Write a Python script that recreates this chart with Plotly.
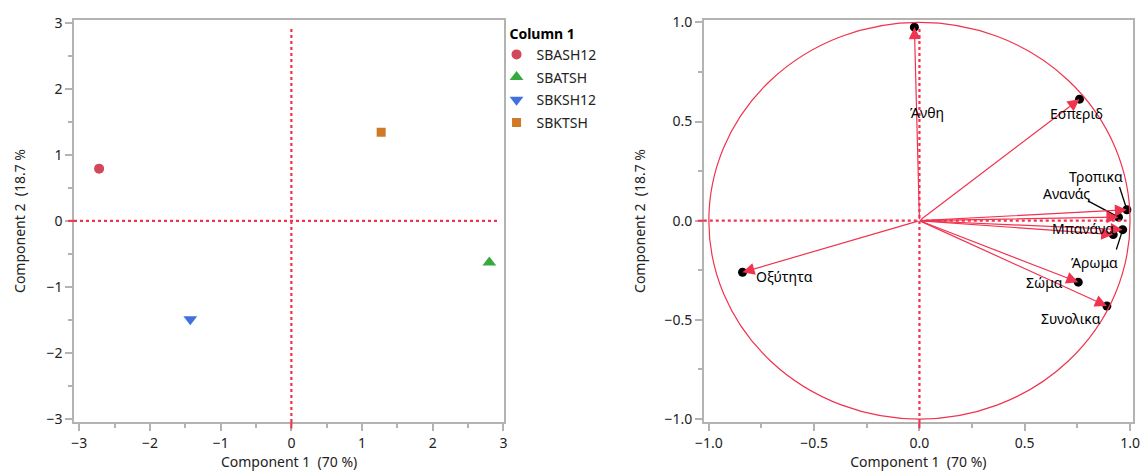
import plotly.graph_objects as go

# ---- data ----
samples = ["SBASH12", "SBATSH", "SBKSH12", "SBKTSH"]
pc1 = [-2.72, 2.80, -1.43, 1.27]
pc2 = [0.79, -0.63, -1.49, 1.34]
sample_colors = ["#d2475a", "#37a93f", "#4171e0", "#d07a27"]
sample_symbols = ["circle", "triangle-up", "triangle-down", "square"]
sample_sizes = [10, 12, 12, 9]

variables = ["Άνθη", "Εσπεριδ", "Τροπικα", "Ανανάς", "Μπανάνα", "Άρωμα", "Σώμα", "Συνολικα", "Οξύτητα"]
load1 = [-0.024, 0.76, 0.985, 0.945, 0.92, 0.965, 0.754, 0.89, -0.84]
load2 = [0.976, 0.613, 0.055, 0.018, -0.07, -0.045, -0.31, -0.43, -0.26]
# label positions (data coords of right panel)
lab_x = [0.038, 0.744, 0.839, 0.697, 0.777, 0.829, 0.592, 0.72, -0.64]
lab_y = [0.545, 0.54, 0.222, 0.136, -0.04, -0.212, -0.313, -0.495, -0.283]
# leader lines: label end -> point
leaders = {"Τροπικα": (0.95, 0.17), "Ανανάς": (0.80, 0.10), "Άρωμα": (0.935, -0.145)}

RED = "#f0334f"
AX = "#b3b3b3"
FONT = "Noto Sans"

fig = go.Figure()

for s, a, b, c, m, sz in zip(samples, pc1, pc2, sample_colors, sample_symbols, sample_sizes):
    fig.add_trace(go.Scatter(x=[a], y=[b], mode="markers", name=s, legendgroup=s,
                             marker=dict(color=c, symbol=m, size=sz),
                             xaxis="x", yaxis="y"))

# loading points
fig.add_trace(go.Scatter(x=load1, y=load2, mode="markers", showlegend=False,
                         marker=dict(color="black", size=9),
                         xaxis="x2", yaxis="y2"))

# leader lines
for v, (lx, ly) in leaders.items():
    i = variables.index(v)
    fig.add_trace(go.Scatter(x=[lx, load1[i]], y=[ly, load2[i]], mode="lines",
                             showlegend=False, line=dict(color="black", width=1.3),
                             xaxis="x2", yaxis="y2"))

# arrows
for v, a, b in zip(variables, load1, load2):
    fig.add_annotation(x=a, y=b, ax=0, ay=0, xref="x2", yref="y2", axref="x2", ayref="y2",
                       text="", showarrow=True, arrowhead=2, arrowsize=2.0, arrowwidth=1.2,
                       arrowcolor=RED)
for v, a, b in zip(variables, lab_x, lab_y):
    fig.add_annotation(x=a, y=b, xref="x2", yref="y2", text=v, showarrow=False,
                       font=dict(size=14, color="black", family=FONT))

# circle
fig.add_shape(type="circle", xref="x2", yref="y2", x0=-1, y0=-1, x1=1, y1=1,
              line=dict(color=RED, width=1.2))

# dotted zero lines
for xr, yr in [("x", "y"), ("x2", "y2")]:
    fig.add_shape(type="line", xref=xr, yref=yr + " domain", x0=0, x1=0, y0=0, y1=0.985,
                  line=dict(color=RED, width=2.2, dash="dot"))
    fig.add_shape(type="line", xref=xr + " domain", yref=yr, x0=0, x1=0.985, y0=0, y1=0,
                  line=dict(color=RED, width=2.2, dash="dot"))
    # small red marks on axes at zero
    fig.add_shape(type="line", xref=xr, yref=yr + " domain", x0=0, x1=0, y0=-0.016, y1=0,
                  line=dict(color=RED, width=2))
    fig.add_shape(type="line", xref=xr + " domain", yref=yr, x0=-0.014, x1=0, y0=0, y1=0,
                  line=dict(color=RED, width=2))

axis_common = dict(showline=True, linecolor=AX, linewidth=1.5, mirror=True,
                   showgrid=False, zeroline=False, ticks="outside", ticklen=7,
                   tickcolor=AX, tickwidth=1.5,
                   tickfont=dict(size=14, color="#222", family=FONT),
                   title_font=dict(size=14, color="#222", family=FONT))

xtitle = "Component 1\u00a0 (70 %)"
ytitle = "Component 2\u00a0 (18.7 %"

fig.update_layout(
    width=1144, height=471,
    margin=dict(l=74, r=4, t=20, b=49),
    plot_bgcolor="white", paper_bgcolor="white",
    font=dict(family=FONT),
    xaxis=dict(domain=[0, 0.4062], range=[-3.075, 3.01], dtick=1,
               minor=dict(dtick=0.5, ticklen=4, tickcolor=AX, ticks="outside"),
               title=dict(text=xtitle, standoff=4), **axis_common),
    yaxis=dict(domain=[0, 1], range=[-3.045, 3.04], dtick=1,
               minor=dict(dtick=0.5, ticklen=4, tickcolor=AX, ticks="outside"),
               title=dict(text=ytitle, standoff=18), **axis_common),
    xaxis2=dict(domain=[0.5947, 1], range=[-1.024, 1.014], dtick=0.5, tickformat=".1f",
                minor=dict(dtick=0.25, ticklen=4, tickcolor=AX, ticks="outside"),
                title=dict(text=xtitle, standoff=4), anchor="y2", **axis_common),
    yaxis2=dict(domain=[0, 1], range=[-1.015, 1.012], dtick=0.5, tickformat=".1f",
                minor=dict(dtick=0.25, ticklen=4, tickcolor=AX, ticks="outside"),
                title=dict(text=ytitle, standoff=16), anchor="x2", **axis_common),
    legend=dict(x=0.399, xanchor="left", y=0.9985, yanchor="top",
                title=dict(text="\u00a0\u00a0\u00a0<b>Column 1</b>",
                           font=dict(size=14, color="black", family=FONT)),
                font=dict(size=14, color="#222", family=FONT),
                tracegroupgap=1.5,
                bgcolor="rgba(0,0,0,0)"),
)

fig.write_html(
    "out.html",
    config={"displayModeBar": False},
    post_script=(
        "document.body.style.margin='0';"
        "document.body.style.overflow='hidden';"
        "document.documentElement.style.overflow='hidden';"
    ),
)
